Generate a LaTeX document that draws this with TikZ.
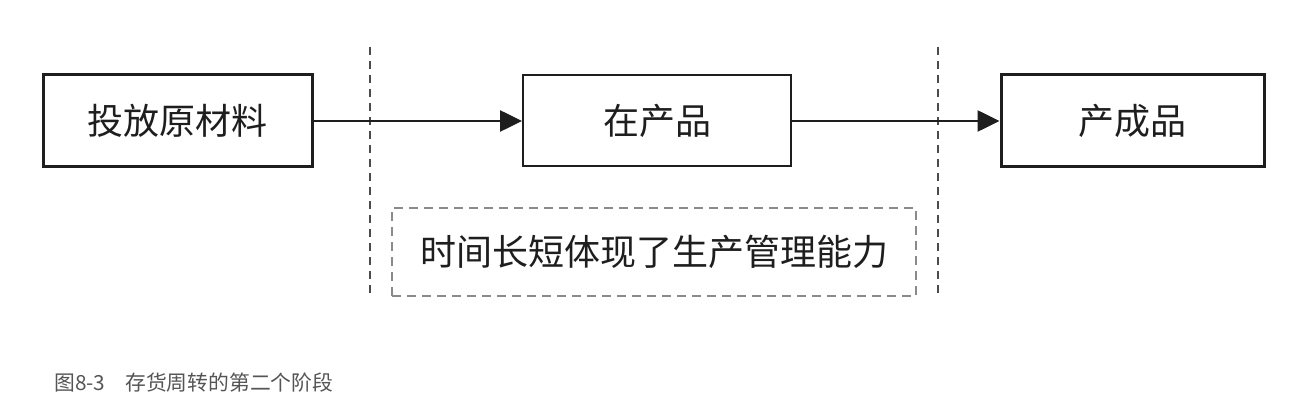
\documentclass[tikz,border=0pt]{standalone}
\usepackage{fontspec}
\setmainfont{Noto Sans CJK SC}
\usetikzlibrary{arrows.meta}
\definecolor{ink}{HTML}{1E1E1E}
\definecolor{dashgray}{HTML}{8A8A8A}
\definecolor{capgray}{HTML}{555555}
\begin{document}
\begin{tikzpicture}[x=1pt,y=-1pt,
  stagebox/.style={draw=ink, text=ink, inner sep=0pt, font=\fontsize{36}{42}\selectfont},
  flow/.style={draw=ink, line width=2.6pt, -{Triangle[length=22pt,width=21pt]}},
  divider/.style={draw=ink!80, line width=1.5pt, dash pattern=on 8pt off 6pt},
  notebox/.style={draw=dashgray, line width=2pt, dash pattern=on 9pt off 6pt, text=ink, inner sep=0pt, font=\fontsize{36}{42}\selectfont}
]
\useasboundingbox (0,0) rectangle (1305,406);
\fill[white] (0,0) rectangle (1305,406);
\node[stagebox, line width=3pt, minimum width=269pt, minimum height=92pt] (raw) at (177.5,121) {\raisebox{-2pt}{投放原材料}};
\node[stagebox, line width=2pt, minimum width=268pt, minimum height=91pt] (wip) at (657,121) {\raisebox{-2pt}{在产品}};
\node[stagebox, line width=3pt, minimum width=263pt, minimum height=92pt] (fin) at (1132.5,121) {\raisebox{-2pt}{产成品}};
\coordinate (d1t) at (370,47); \coordinate (d1b) at (370,298);
\coordinate (d2t) at (938,47); \coordinate (d2b) at (938,298);
\draw[divider] (d1t) -- (d1b);
\draw[divider] (d2t) -- (d2b);
\node[notebox, minimum width=524pt, minimum height=88pt] (note) at (654,252) {时间长短体现了生产管理能力};
\draw[flow] (raw.east) -- (wip.west);
\draw[flow] (wip.east) -- (fin.west);
\node[anchor=west, text=capgray, inner sep=0pt, font=\fontsize{20.8}{24}\selectfont] (cap) at (54,383) {图8-3\hspace{20pt}存货周转的第二个阶段};
\end{tikzpicture}
\end{document}
